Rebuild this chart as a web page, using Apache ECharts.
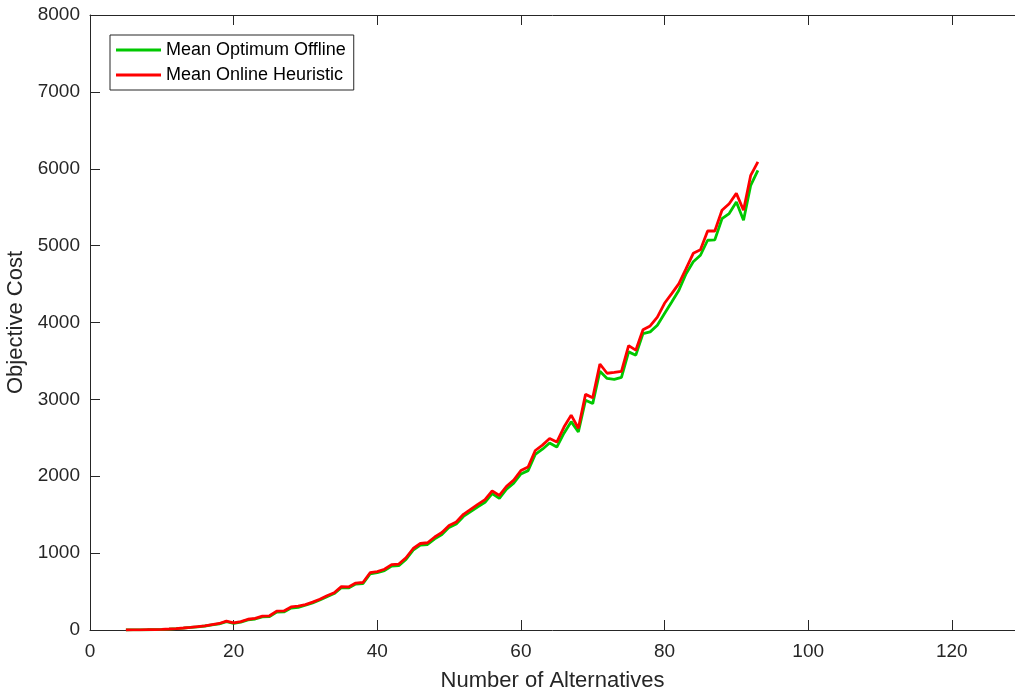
<!DOCTYPE html>
<html>
<head>
<meta charset="utf-8">
<script src="https://cdn.jsdelivr.net/npm/echarts@6/dist/echarts.min.js"></script>
<style>
  html, body { margin: 0; padding: 0; background: #fff; }
  #cost_chart { width: 1015px; height: 696px; }
</style>
</head>
<body>
<div id="cost_chart"></div>
<script>
  // number of alternatives (x)
  const alternatives = [
    5, 6, 7, 8, 9, 10, 11, 12, 13, 14, 15, 16, 17, 18, 19, 20, 21, 22, 23, 24,
    25, 26, 27, 28, 29, 30, 31, 32, 33, 34, 35, 36, 37, 38, 39, 40, 41, 42, 43, 44,
    45, 46, 47, 48, 49, 50, 51, 52, 53, 54, 55, 56, 57, 58, 59, 60, 61, 62, 63, 64,
    65, 66, 67, 68, 69, 70, 71, 72, 73, 74, 75, 76, 77, 78, 79, 80, 81, 82, 83, 84,
    85, 86, 87, 88, 89, 90, 91, 92, 93
  ];
  const optimumOffline = [
    0, 1, 2, 3, 5, 8, 12, 17, 24, 33, 42, 52, 66, 80, 108, 85, 103, 132, 143, 170,
    174, 232, 235, 285, 295, 322, 353, 390, 434, 474, 552, 547, 597, 604, 730, 745, 773, 832, 838, 918,
    1040, 1103, 1112, 1186, 1243, 1335, 1378, 1477, 1540, 1603, 1662, 1775, 1713, 1832, 1910, 2030, 2073, 2285, 2352, 2432,
    2380, 2560, 2710, 2575, 2990, 2945, 3365, 3272, 3260, 3285, 3618, 3575, 3855, 3878, 3965, 4117, 4268, 4420, 4635, 4790,
    4875, 5070, 5075, 5350, 5417, 5568, 5330, 5785, 5980
  ];
  const onlineHeuristic = [
    0, 1, 2, 4, 6, 9, 13, 18, 26, 35, 45, 55, 70, 85, 115, 92, 110, 140, 152, 180,
    185, 245, 248, 300, 310, 330, 362, 400, 445, 485, 565, 560, 610, 618, 745, 760, 790, 850, 858, 940,
    1060, 1125, 1135, 1210, 1268, 1360, 1405, 1505, 1570, 1635, 1695, 1810, 1750, 1870, 1950, 2075, 2120, 2335, 2405, 2490,
    2445, 2640, 2795, 2625, 3065, 3020, 3460, 3340, 3350, 3365, 3700, 3640, 3905, 3955, 4070, 4250, 4375, 4505, 4700, 4900,
    4945, 5190, 5190, 5460, 5545, 5680, 5460, 5915, 6090
  ];
  const seriesNames = ['Mean Optimum Offline', 'Mean Online Heuristic'];

  const axisColor = '#262626';
  const fontFamily = 'Liberation Sans, Arial, sans-serif';

  function pairs(ys) {
    return alternatives.map((x, i) => [x, ys[i]]);
  }

  const option = {
    animation: false,
    textStyle: { fontFamily: fontFamily },
    grid: {
      left: 90,
      right: 0,
      top: 15,
      bottom: 66,
      containLabel: false,
      outerBoundsMode: 'none'
    },
    legend: {
      orient: 'vertical',
      left: 110,
      top: 35,
      padding: [5, 8, 5, 6],
      itemWidth: 45,
      itemHeight: 3,
      itemGap: 5,
      icon: 'rect',
      borderColor: '#262626',
      borderWidth: 1,
      backgroundColor: '#fff',
      data: seriesNames,
      textStyle: {
        fontSize: 18,
        lineHeight: 20,
        color: '#000',
        fontFamily: fontFamily
      }
    },
    xAxis: [
      {
        type: 'value',
        min: 0,
        max: 128.8,
        interval: 20,
        name: 'Number of Alternatives',
        nameLocation: 'middle',
        nameGap: 40,
        nameTextStyle: { fontSize: 22, color: axisColor },
        splitLine: { show: false },
        axisLine: { onZero: false, lineStyle: { color: axisColor, width: 1 } },
        axisTick: { inside: true, length: 10, lineStyle: { color: axisColor } },
        axisLabel: {
          margin: 12,
          fontSize: 19,
          color: axisColor,
          showMaxLabel: false,
          formatter: v => (v % 20 === 0 ? String(v) : '')
        }
      },
      {
        type: 'value',
        position: 'top',
        min: 0,
        max: 128.8,
        interval: 20,
        splitLine: { show: false },
        axisLine: { onZero: false, lineStyle: { color: axisColor, width: 1 } },
        axisTick: { inside: true, length: 10, lineStyle: { color: axisColor } },
        axisLabel: { show: false }
      }
    ],
    yAxis: {
      type: 'value',
      min: 0,
      max: 8000,
      interval: 1000,
      name: 'Objective Cost',
      nameLocation: 'middle',
      nameGap: 54,
      nameTextStyle: { fontSize: 22, color: axisColor },
      splitLine: { show: false },
      axisLine: { show: true, onZero: false, lineStyle: { color: axisColor, width: 1 } },
      axisTick: { show: true, inside: true, length: 10, lineStyle: { color: axisColor } },
      axisLabel: { margin: 10, fontSize: 19, color: axisColor, formatter: v => String(v) }
    },
    series: [
      {
        name: seriesNames[0],
        type: 'line',
        showSymbol: false,
        symbol: 'none',
        itemStyle: { color: '#00c800' },
        lineStyle: { color: '#00c800', width: 2.8 },
        data: pairs(optimumOffline)
      },
      {
        name: seriesNames[1],
        type: 'line',
        showSymbol: false,
        symbol: 'none',
        itemStyle: { color: '#ff0000' },
        lineStyle: { color: '#ff0000', width: 2.8 },
        data: pairs(onlineHeuristic)
      }
    ]
  };

  const costChart = echarts.init(document.getElementById('cost_chart'));
  costChart.setOption(option);
  window.addEventListener('resize', function () {
    costChart.resize();
  });
</script>
</body>
</html>
